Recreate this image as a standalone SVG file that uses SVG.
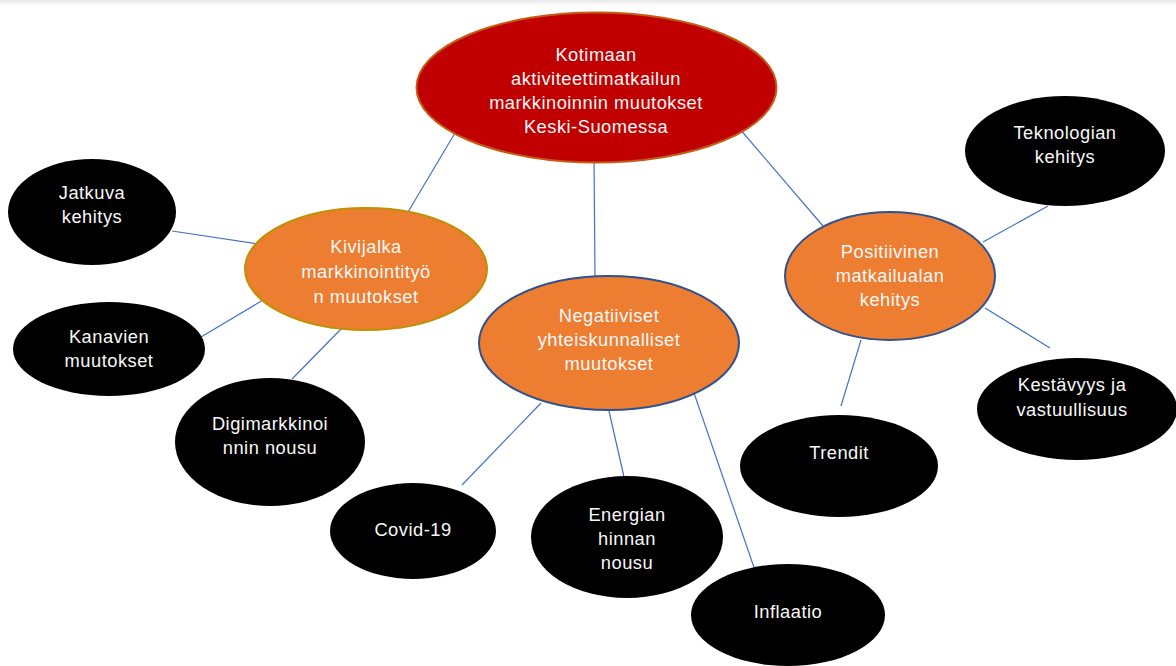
<svg xmlns="http://www.w3.org/2000/svg" width="1176" height="666" viewBox="0 0 1176 666">
<defs>
<linearGradient id="topband" x1="0" y1="0" x2="0" y2="1">
<stop offset="0" stop-color="#e9e9e9"/>
<stop offset="1" stop-color="#ffffff"/>
</linearGradient>
</defs>
<style>
.t{font-family:"Liberation Sans",Arial,sans-serif;font-size:18.3px;letter-spacing:0.5px;fill:#f8f8f8;text-anchor:middle}
.blk{fill:#000000;stroke:none}
.org{fill:#ED7D31;stroke-width:2}
.c{stroke:#4472C4;stroke-width:1.2;fill:none}
</style>
<rect x="0" y="0" width="1176" height="666" fill="#ffffff"/>
<rect x="0" y="0" width="1176" height="6" fill="url(#topband)"/>
<g id="connectors">
<line class="c" x1="455" y1="133" x2="408" y2="212"/>
<line class="c" x1="594" y1="155" x2="595" y2="276"/>
<line class="c" x1="739" y1="128" x2="823" y2="226"/>
<line class="c" x1="172" y1="231" x2="258" y2="244"/>
<line class="c" x1="201" y1="337" x2="263" y2="300"/>
<line class="c" x1="292" y1="379" x2="343" y2="327"/>
<line class="c" x1="541" y1="403" x2="462" y2="485"/>
<line class="c" x1="609" y1="411" x2="624" y2="477"/>
<line class="c" x1="694" y1="393" x2="759" y2="582"/>
<line class="c" x1="983" y1="242" x2="1048" y2="206"/>
<line class="c" x1="985" y1="308" x2="1050" y2="348"/>
<line class="c" x1="861" y1="340" x2="841" y2="406"/>
</g>
<g id="main">
<ellipse cx="596.5" cy="87.5" rx="180" ry="75" fill="#C00000" stroke="#C55A11" stroke-width="2"/>
<text class="t" x="596" y="61">Kotimaan</text>
<text class="t" x="596" y="85">aktiviteettimatkailun</text>
<text class="t" x="596" y="109">markkinoinnin muutokset</text>
<text class="t" x="596" y="133">Keski-Suomessa</text>
</g>
<g id="kivijalka">
<ellipse class="org" cx="366" cy="269" rx="121" ry="61" stroke="#BF9000"/>
<text class="t" x="366" y="253">Kivijalka</text>
<text class="t" x="366" y="278">markkinointityö</text>
<text class="t" x="366" y="303">n muutokset</text>
</g>
<g id="negatiiviset">
<ellipse class="org" cx="609" cy="343" rx="130" ry="67" stroke="#2F528F"/>
<text class="t" x="609" y="322">Negatiiviset</text>
<text class="t" x="609" y="346">yhteiskunnalliset</text>
<text class="t" x="609" y="370">muutokset</text>
</g>
<g id="positiivinen">
<ellipse class="org" cx="890" cy="276" rx="105" ry="64" stroke="#2F528F"/>
<text class="t" x="890" y="258">Positiivinen</text>
<text class="t" x="890" y="282">matkailualan</text>
<text class="t" x="890" y="306">kehitys</text>
</g>
<g id="jatkuva">
<ellipse class="blk" cx="92" cy="212" rx="84" ry="53"/>
<text class="t" x="92" y="199">Jatkuva</text>
<text class="t" x="92" y="223">kehitys</text>
</g>
<g id="kanavien">
<ellipse class="blk" cx="109" cy="349" rx="96" ry="47"/>
<text class="t" x="109" y="343">Kanavien</text>
<text class="t" x="109" y="367">muutokset</text>
</g>
<g id="digi">
<ellipse class="blk" cx="270" cy="442" rx="95" ry="64"/>
<text class="t" x="270" y="430">Digimarkkinoi</text>
<text class="t" x="270" y="454">nnin nousu</text>
</g>
<g id="covid">
<ellipse class="blk" cx="413" cy="531" rx="83" ry="48"/>
<text class="t" x="413" y="536">Covid-19</text>
</g>
<g id="energian">
<ellipse class="blk" cx="627" cy="537" rx="96" ry="61"/>
<text class="t" x="627" y="521">Energian</text>
<text class="t" x="627" y="545">hinnan</text>
<text class="t" x="627" y="569">nousu</text>
</g>
<g id="inflaatio">
<ellipse class="blk" cx="788" cy="615" rx="97" ry="51"/>
<text class="t" x="788" y="618">Inflaatio</text>
</g>
<g id="teknologian">
<ellipse class="blk" cx="1065" cy="151" rx="100" ry="55"/>
<text class="t" x="1065" y="139">Teknologian</text>
<text class="t" x="1065" y="163">kehitys</text>
</g>
<g id="kestavyys">
<ellipse class="blk" cx="1077" cy="409" rx="100" ry="51"/>
<text class="t" x="1072" y="391">Kestävyys ja</text>
<text class="t" x="1072" y="416">vastuullisuus</text>
</g>
<g id="trendit">
<ellipse class="blk" cx="839" cy="466" rx="99" ry="51"/>
<text class="t" x="839" y="459">Trendit</text>
</g>
</svg>
